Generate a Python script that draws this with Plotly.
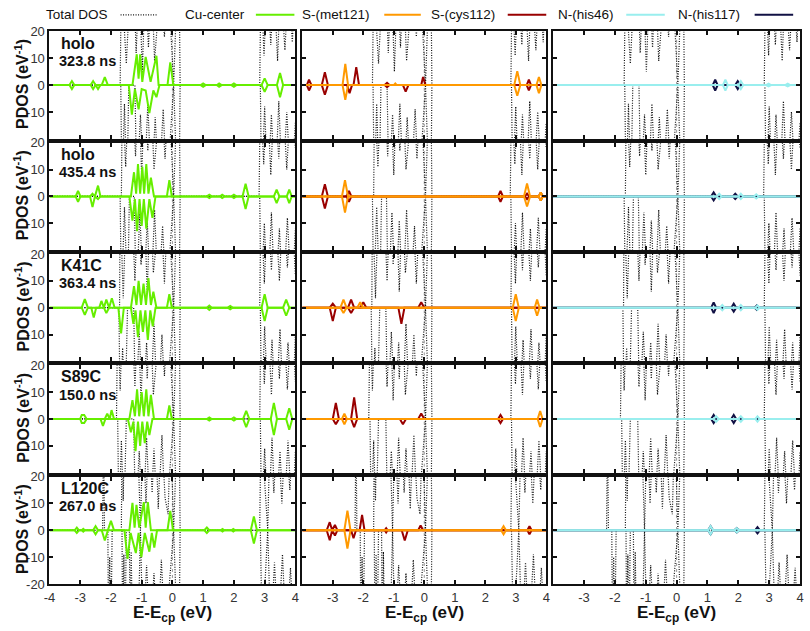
import plotly.graph_objects as go

W, H = 810, 631

X_TICKS = [-4, -3, -2, -1, 0, 1, 2, 3, 4]
Y_TICKS = [-20, -10, 0, 10, 20]
ROW_NAMES = ["holo", "holo", "K41C", "S89C", "L120C"]
ROW_TIMES = ["323.8 ns", "435.4 ns", "363.4 ns", "150.0 ns", "267.0 ns"]
SERIES = ["Total DOS", "Cu-center", "S-(met121)", "S-(cys112)", "N-(his46)", "N-(his117)"]
COLORS = ["#000000", "#66ee00", "#ff9900", "#990000", "#99eeee", "#111144"]

# ---- Total DOS (spin up / spin down), one list of [E, DOS] vertices per row ----
tot_up = [
    [[-4, 0], [-1.7, 0], [-1.66, 40], [-1.5, 8], [-1.36, 40], [-1.26, 40], [-1.18, 12], [-1.08, 40], [-0.98, 5],
     [-0.88, 40], [-0.78, 14], [-0.68, 40], [-0.58, 9], [-0.48, 40], [-0.38, 40], [-0.26, 18], [-0.14, 40],
     [0.04, 0], [0.16, 40], [0.22, 40], [0.25, 0], [2.84, 0], [2.88, 40], [2.98, 11], [3.08, 40], [3.2, 15],
     [3.3, 40], [3.42, 9], [3.52, 40], [3.66, 13], [3.78, 40], [3.9, 16], [4, 40]],
    [[-4, 0], [-1.66, 0], [-1.63, 40], [-1.52, 11], [-1.42, 40], [-1.3, 40], [-1.2, 15], [-1.1, 40], [-1.0, 8],
     [-0.9, 40], [-0.8, 17], [-0.7, 40], [-0.6, 10], [-0.5, 40], [-0.36, 40], [-0.24, 14], [-0.12, 40],
     [0.04, 0], [0.16, 40], [0.22, 40], [0.25, 0], [2.82, 0], [2.86, 40], [2.97, 12], [3.08, 40], [3.2, 8],
     [3.32, 40], [3.46, 14], [3.58, 40], [3.72, 10], [3.86, 40], [4, 18]],
    [[-4, 0], [-1.72, 0], [-1.7, 40], [-1.6, 3.5], [-1.5, 40], [-1.32, 40], [-1.22, 10], [-1.12, 40],
     [-1.02, 16], [-0.92, 40], [-0.82, 6], [-0.72, 40], [-0.62, 13], [-0.52, 40], [-0.38, 40], [-0.26, 9],
     [-0.14, 40], [0.04, 0], [0.16, 40], [0.22, 40], [0.25, 0], [2.84, 0], [2.88, 40], [2.99, 9], [3.1, 40],
     [3.22, 14], [3.34, 40], [3.48, 10], [3.6, 40], [3.74, 15], [3.88, 40], [4, 12]],
    [[-4, 0], [-1.82, 0], [-1.78, 40], [-1.7, 10.6], [-1.62, 40], [-1.32, 40], [-1.22, 12], [-1.12, 40],
     [-1.02, 7], [-0.92, 40], [-0.82, 15], [-0.72, 40], [-0.62, 9], [-0.52, 40], [-0.38, 40], [-0.26, 16],
     [-0.14, 40], [0.04, 0], [0.16, 40], [0.22, 40], [0.25, 0], [2.84, 0], [2.88, 40], [2.99, 13], [3.1, 40],
     [3.22, 9], [3.34, 40], [3.48, 15], [3.6, 40], [3.74, 11], [3.88, 40], [4, 14]],
    [[-4, 0], [-2.27, 0], [-2.24, 40], [-2.21, 0], [-1.66, 0], [-1.64, 40], [-1.6, 11], [-1.56, 40],
     [-1.14, 40], [-1.04, 0], [-0.96, 40], [-0.86, 10], [-0.76, 40], [-0.66, 14], [-0.56, 40], [-0.46, 8],
     [-0.36, 40], [-0.24, 12], [-0.14, 6], [-0.06, 40], [0.04, 0], [0.16, 40], [0.22, 40], [0.25, 0],
     [2.84, 0], [2.88, 40], [3.1, 0], [3.18, 40], [3.3, 14], [3.42, 40], [3.56, 10], [3.68, 40], [3.82, 15],
     [3.94, 40], [4, 30]],
]
tot_dn = [
    [[-4, 0], [-1.68, 0], [-1.64, -40], [-1.56, -7], [-1.48, -40], [-1.42, 0], [-1.22, 0], [-1.16, -40],
     [-1.04, -11], [-0.92, -40], [-0.8, -7], [-0.68, -40], [-0.56, -12], [-0.44, -40], [-0.3, -9], [-0.18, -40],
     [0.04, 0], [0.16, -40], [0.22, -40], [0.25, 0], [2.86, 0], [2.9, -40], [3.0, -8], [3.1, -40], [3.22, -11],
     [3.34, -40], [3.46, -6], [3.58, -40], [3.72, -10], [3.86, -40], [4, -14]],
    [[-4, 0], [-1.7, 0], [-1.66, -40], [-1.56, -4], [-1.46, -40], [-1.4, 0], [-1.24, 0], [-1.18, -40],
     [-1.06, -6], [-0.94, -40], [-0.82, -9], [-0.7, -40], [-0.58, -5], [-0.46, -40], [-0.32, -11], [-0.2, -40],
     [0.04, 0], [0.16, -40], [0.22, -40], [0.25, 0], [2.84, 0], [2.88, -40], [2.99, -10], [3.1, -40],
     [3.22, -6], [3.34, -40], [3.48, -12], [3.6, -40], [3.74, -8], [3.88, -40], [4, -12]],
    [[-4, 0], [-1.74, 0], [-1.7, -40], [-1.62, -15], [-1.54, -40], [-1.46, 0], [-1.26, 0], [-1.2, -40],
     [-1.08, -9], [-0.96, -40], [-0.84, -13], [-0.72, -40], [-0.6, -6], [-0.48, -40], [-0.34, -10],
     [-0.22, -40], [0.04, 0], [0.16, -40], [0.22, -40], [0.25, 0], [2.86, 0], [2.9, -40], [3.0, -7],
     [3.12, -40], [3.24, -12], [3.36, -40], [3.5, -8], [3.62, -40], [3.76, -13], [3.9, -40], [4, -10]],
    [[-4, 0], [-1.78, 0], [-1.74, -40], [-1.66, -8], [-1.58, -40], [-1.5, 0], [-1.26, 0], [-1.2, -40],
     [-1.08, -12], [-0.96, -40], [-0.84, -7], [-0.72, -40], [-0.6, -11], [-0.48, -40], [-0.34, -6],
     [-0.22, -40], [0.04, 0], [0.16, -40], [0.22, -40], [0.25, 0], [2.86, 0], [2.9, -40], [3.0, -11],
     [3.12, -40], [3.24, -7], [3.36, -40], [3.5, -12], [3.62, -40], [3.76, -8], [3.9, -40], [4, -12]],
    [[-4, 0], [-2.1, 0], [-2.08, -40], [-2.04, -10], [-2.0, -40], [-1.96, 0], [-1.64, 0], [-1.62, -40],
     [-1.58, -9], [-1.54, -40], [-1.5, 0], [-1.4, 0], [-1.38, -40], [-1.34, -8], [-1.3, -40], [-1.12, -40],
     [-1.04, 0], [-0.96, -40], [-0.84, -13], [-0.72, -40], [-0.6, -16], [-0.48, -40], [-0.36, -11],
     [-0.24, -40], [0.04, 0], [0.16, -40], [0.22, -40], [0.25, 0], [2.86, 0], [2.92, -40], [3.1, 0],
     [3.2, -40], [3.32, -12], [3.44, -40], [3.58, -9], [3.7, -40], [3.84, -14], [3.96, -40], [4, -30]],
]

# ---- Cu-center PDOS ----
cu_up = [
    [[-4, 0], [-3.35, 0], [-3.27, 1.5], [-3.19, 0], [-2.66, 0], [-2.58, 1.5], [-2.5, 0], [-2.3, 0], [-2.2, 3],
     [-2.1, 0], [-1.3, 0], [-1.16, 11.5], [-1.1, 2.4], [-1.05, 11.5], [-0.98, 1.2], [-0.87, 10.5], [-0.71, 1.2],
     [-0.52, 10.9], [-0.45, 0], [-0.16, 0], [-0.07, 8.5], [0.03, 0], [0.92, 0], [1.0, 0.6], [1.08, 0],
     [1.45, 0], [1.52, 0.6], [1.6, 0], [1.92, 0], [2.0, 0.6], [2.08, 0], [2.9, 0], [3.0, 2.5], [3.1, 0],
     [3.4, 0], [3.5, 4.5], [3.6, 0], [4, 0]],
    [[-4, 0], [-3.15, 0], [-3.07, 2], [-2.99, 0], [-2.68, 0], [-2.6, 1], [-2.52, 0], [-2.42, 4], [-2.34, 0],
     [-1.35, 0], [-1.25, 9], [-1.18, 1], [-1.12, 12], [-1.05, 1], [-0.98, 11], [-0.92, 1], [-0.85, 12],
     [-0.78, 1], [-0.7, 7], [-0.6, 0], [-0.18, 0], [-0.1, 6], [-0.02, 0], [1.12, 0], [1.2, 0.6], [1.28, 0],
     [1.55, 0], [1.62, 0.6], [1.7, 0], [1.92, 0], [2.0, 0.6], [2.08, 0], [2.28, 0], [2.38, 4.7], [2.48, 0],
     [3.3, 0], [3.39, 2.5], [3.48, 0], [3.72, 0], [3.8, 2.5], [3.88, 0], [4, 0]],
    [[-4, 0], [-2.95, 0], [-2.85, 3.2], [-2.75, 0], [-2.38, 0], [-2.31, 2.5], [-2.23, 0], [-2.15, 3],
     [-2.06, 0], [-1.97, 3.5], [-1.88, 0], [-1.35, 0], [-1.25, 8], [-1.17, 1], [-1.1, 10], [-1.02, 1],
     [-0.94, 9], [-0.86, 1], [-0.78, 11], [-0.7, 1], [-0.62, 6], [-0.52, 0], [-0.18, 0], [-0.1, 5],
     [-0.02, 0], [1.12, 0], [1.2, 0.8], [1.28, 0], [1.8, 0], [1.88, 0.6], [1.96, 0], [2.9, 0], [3.0, 5],
     [3.1, 0], [3.6, 0], [3.7, 3], [3.8, 0], [4, 0]],
    [[-4, 0], [-3.0, 0], [-2.95, 1.5], [-2.87, 1.5], [-2.79, 0], [-2.2, 0], [-2.12, 2], [-2.04, 0],
     [-1.98, 3.3], [-1.9, 0], [-1.4, 0], [-1.3, 7], [-1.22, 1], [-1.15, 11], [-1.08, 1], [-1.0, 10],
     [-0.93, 1], [-0.85, 11], [-0.78, 1], [-0.7, 9], [-0.6, 0], [-0.18, 0], [-0.1, 5], [-0.02, 0], [1.12, 0],
     [1.2, 0.6], [1.28, 0], [1.92, 0], [2.0, 0.6], [2.08, 0], [2.3, 0], [2.4, 3], [2.5, 0], [3.2, 0],
     [3.3, 6], [3.4, 0], [3.7, 0], [3.8, 4], [3.9, 0], [4, 0]],
    [[-4, 0], [-3.18, 0], [-3.11, 1], [-3.04, 0], [-2.95, 0], [-2.9, 0.5], [-2.85, 0], [-2.58, 0], [-2.5, 1.5],
     [-2.42, 0], [-2.1, 0], [-2.0, 3.5], [-1.9, 0], [-1.4, 0], [-1.3, 10.2], [-1.23, 1], [-1.17, 9.5],
     [-1.08, 1], [-0.93, 10.5], [-0.87, 1], [-0.8, 10.5], [-0.7, 0], [-0.16, 0], [-0.07, 7.2], [0.02, 0],
     [1.04, 0], [1.12, 1], [1.2, 0], [1.57, 0], [1.63, 0.5], [1.69, 0], [1.92, 0], [1.98, 0.5], [2.04, 0],
     [2.55, 0], [2.65, 5.1], [2.75, 0], [4, 0]],
]
cu_dn = [
    [[-4, 0], [-3.35, 0], [-3.27, -1.5], [-3.19, 0], [-2.66, 0], [-2.58, -1.5], [-2.5, 0], [-2.42, -1.5],
     [-2.34, 0], [-1.42, 0], [-1.32, -11], [-1.22, -1.5], [-1.1, -9], [-1.0, -1.5], [-0.87, -2], [-0.75, -10.4],
     [-0.62, -2], [-0.52, -4.5], [-0.42, 0], [0.92, 0], [1.0, -0.6], [1.08, 0], [1.45, 0], [1.52, -0.6],
     [1.6, 0], [1.92, 0], [2.0, -0.6], [2.08, 0], [2.9, 0], [3.0, -2.5], [3.1, 0], [3.4, 0], [3.5, -4.5],
     [3.6, 0], [4, 0]],
    [[-4, 0], [-3.15, 0], [-3.07, -2], [-2.99, 0], [-2.68, 0], [-2.6, -4], [-2.52, 0], [-2.42, -1],
     [-2.34, 0], [-1.4, 0], [-1.3, -9], [-1.22, -1], [-1.15, -13], [-1.07, -1], [-1.0, -11], [-0.93, -1],
     [-0.85, -12], [-0.75, -1], [-0.65, -8], [-0.55, 0], [1.12, 0], [1.2, -0.6], [1.28, 0], [1.55, 0],
     [1.62, -0.6], [1.7, 0], [1.92, 0], [2.0, -0.6], [2.08, 0], [2.28, 0], [2.38, -4.7], [2.48, 0],
     [3.3, 0], [3.39, -2.5], [3.48, 0], [3.72, 0], [3.8, -2.5], [3.88, 0], [4, 0]],
    [[-4, 0], [-2.95, 0], [-2.85, -2.7], [-2.75, 0], [-2.64, 0], [-2.56, -3.7], [-2.48, 0], [-2.23, 0],
     [-2.15, -2], [-2.06, 0], [-1.76, 0], [-1.67, -9.6], [-1.58, 0], [-1.35, 0], [-1.27, -6], [-1.2, -1],
     [-1.12, -11], [-1.04, -1], [-0.96, -9], [-0.88, -1], [-0.8, -12], [-0.72, -1], [-0.64, -7], [-0.55, 0],
     [1.12, 0], [1.2, -0.8], [1.28, 0], [1.8, 0], [1.88, -0.6], [1.96, 0], [2.9, 0], [3.0, -5], [3.1, 0],
     [3.6, 0], [3.7, -3], [3.8, 0], [4, 0]],
    [[-4, 0], [-3.0, 0], [-2.95, -1.5], [-2.87, -1.5], [-2.79, 0], [-2.34, 0], [-2.26, -2.6], [-2.18, 0],
     [-1.45, 0], [-1.35, -5], [-1.27, -1], [-1.2, -12], [-1.12, -1], [-1.05, -10], [-0.98, -1], [-0.9, -9],
     [-0.82, -1], [-0.75, -6], [-0.65, 0], [1.12, 0], [1.2, -0.6], [1.28, 0], [1.92, 0], [2.0, -0.6],
     [2.08, 0], [2.3, 0], [2.4, -3], [2.5, 0], [3.2, 0], [3.3, -6], [3.4, 0], [3.7, 0], [3.8, -4], [3.9, 0],
     [4, 0]],
    [[-4, 0], [-3.18, 0], [-3.11, -1], [-3.04, 0], [-2.95, 0], [-2.9, -0.5], [-2.85, 0], [-2.58, 0],
     [-2.5, -1.5], [-2.42, 0], [-2.3, 0], [-2.2, -3.8], [-2.1, 0], [-1.56, 0], [-1.46, -10.7], [-1.36, -1],
     [-1.19, -8.5], [-1.1, -1], [-1.01, -10], [-0.9, -1], [-0.75, -8], [-0.67, -1], [-0.59, -6.5], [-0.5, 0],
     [1.04, 0], [1.12, -1], [1.2, 0], [1.57, 0], [1.63, -0.5], [1.69, 0], [1.92, 0], [1.98, -0.5], [2.04, 0],
     [2.55, 0], [2.65, -4.9], [2.75, 0], [4, 0]],
]

# ---- S-(met121) PDOS (orange) ----
met_up = [
    [[-4, 0], [-2.68, 0], [-2.59, 7.9], [-2.5, 0], [-1.0, 0], [-0.95, 0.6], [-0.9, 0], [2.95, 0], [3.05, 5.2],
     [3.15, 0], [3.68, 0], [3.76, 3], [3.84, 0], [4, 0]],
    [[-4, 0], [-2.7, 0], [-2.6, 6], [-2.5, 0], [3.27, 0], [3.37, 4.8], [3.47, 0], [3.75, 0], [3.82, 1.5],
     [3.89, 0], [4, 0]],
    [[-4, 0], [-2.75, 0], [-2.65, 3], [-2.55, 0], [-2.2, 0], [-2.1, 2], [-2.0, 0], [2.9, 0], [3.0, 5],
     [3.1, 0], [3.62, 0], [3.7, 3], [3.78, 0], [4, 0]],
    [[-4, 0], [-2.7, 0], [-2.62, 2], [-2.54, 0], [3.72, 0], [3.8, 3], [3.88, 0], [4, 0]],
    [[-4, 0], [-2.62, 0], [-2.52, 7.3], [-2.42, 0], [2.52, 0], [2.6, 1.5], [2.68, 0], [4, 0]],
]
met_dn = [
    [[-4, 0], [-2.68, 0], [-2.59, -5.5], [-2.5, 0], [2.95, 0], [3.05, -4], [3.15, 0], [3.68, 0], [3.76, -3],
     [3.84, 0], [4, 0]],
    [[-4, 0], [-2.7, 0], [-2.6, -6], [-2.5, 0], [3.27, 0], [3.37, -3.8], [3.47, 0], [3.75, 0], [3.82, -1.5],
     [3.89, 0], [4, 0]],
    [[-4, 0], [-2.75, 0], [-2.65, -2], [-2.55, 0], [2.9, 0], [3.0, -5], [3.1, 0], [3.62, 0], [3.7, -3],
     [3.78, 0], [4, 0]],
    [[-4, 0], [-2.7, 0], [-2.62, -2], [-2.54, 0], [3.72, 0], [3.8, -3], [3.88, 0], [4, 0]],
    [[-4, 0], [-2.62, 0], [-2.52, -6.8], [-2.42, 0], [2.52, 0], [2.6, -1.5], [2.68, 0], [4, 0]],
]

# ---- S-(cys112) PDOS (dark red) ----
cys_up = [
    [[-4, 0], [-3.85, 0], [-3.78, 2], [-3.7, 0], [-3.36, 0], [-3.26, 4.8], [-3.16, 0], [-2.32, 0], [-2.23, 6.7],
     [-2.14, 0], [-1.3, 0], [-1.22, 0.8], [-1.14, 0], [-0.1, 0], [-0.04, 3], [0.04, 0], [3.36, 0], [3.43, 2],
     [3.5, 0], [4, 0]],
    [[-4, 0], [-3.36, 0], [-3.26, 4.5], [-3.16, 0], [-2.55, 0], [-2.47, 2], [-2.39, 0], [2.42, 0], [2.5, 2],
     [2.58, 0], [3.3, 0], [3.37, 1], [3.44, 0], [3.75, 0], [3.82, 1.5], [3.89, 0], [4, 0]],
    [[-4, 0], [-3.1, 0], [-3.0, 1.5], [-2.9, 0], [-2.5, 0], [-2.4, 3], [-2.3, 0], [-2.1, 0], [-2.0, 2],
     [-1.9, 0], [-0.2, 0], [-0.1, 2], [0.0, 0], [4, 0]],
    [[-4, 0], [-3.0, 0], [-2.9, 6], [-2.8, 0], [-2.4, 0], [-2.3, 8], [-2.2, 0], [-0.2, 0], [-0.1, 2],
     [0.0, 0], [2.42, 0], [2.5, 1.5], [2.58, 0], [4, 0]],
    [[-4, 0], [-3.2, 0], [-3.1, 3], [-3.02, 0], [-2.93, 2], [-2.85, 0], [-2.12, 0], [-2.04, 5.7], [-1.96, 0],
     [-1.3, 0], [-1.25, 0.8], [-1.2, 0], [-0.2, 0], [-0.12, 1.8], [-0.04, 0], [3.38, 0], [3.45, 1.5],
     [3.52, 0], [4, 0]],
]
cys_dn = [
    [[-4, 0], [-3.85, 0], [-3.78, -2], [-3.7, 0], [-3.36, 0], [-3.26, -3.6], [-3.16, 0], [-2.53, 0],
     [-2.45, -3], [-2.37, 0], [-1.3, 0], [-1.22, -0.8], [-1.14, 0], [-0.7, 0], [-0.61, -2.4], [-0.52, 0],
     [3.36, 0], [3.43, -2], [3.5, 0], [4, 0]],
    [[-4, 0], [-3.36, 0], [-3.26, -4.5], [-3.16, 0], [-2.55, 0], [-2.47, -2], [-2.39, 0], [2.42, 0],
     [2.5, -2], [2.58, 0], [3.3, 0], [3.37, -1], [3.44, 0], [3.75, 0], [3.82, -1.5], [3.89, 0], [4, 0]],
    [[-4, 0], [-3.1, 0], [-3.0, -5], [-2.9, 0], [-2.5, 0], [-2.4, -2], [-2.3, 0], [-0.85, 0], [-0.75, -6],
     [-0.65, 0], [4, 0]],
    [[-4, 0], [-3.0, 0], [-2.9, -2], [-2.8, 0], [-2.4, 0], [-2.3, -3], [-2.2, 0], [-0.8, 0], [-0.7, -2],
     [-0.6, 0], [2.42, 0], [2.5, -1.5], [2.58, 0], [4, 0]],
    [[-4, 0], [-3.2, 0], [-3.1, -3.7], [-3.02, 0], [-2.93, -2], [-2.85, 0], [-2.4, 0], [-2.32, -3],
     [-2.24, 0], [-1.3, 0], [-1.25, -0.8], [-1.2, 0], [-0.74, 0], [-0.64, -3.8], [-0.54, 0], [3.38, 0],
     [3.45, -1.5], [3.52, 0], [4, 0]],
]

# ---- N-(his46) PDOS (light cyan) ----
h46_up = [
    [[-4, 0], [1.5, 0], [1.58, 2], [1.66, 0], [2.0, 0], [2.08, 1.5], [2.16, 0], [2.9, 0], [2.98, 0.5],
     [3.06, 0], [3.52, 0], [3.6, 0.5], [3.68, 0], [4, 0]],
    [[-4, 0], [1.3, 0], [1.38, 1], [1.46, 0], [2.0, 0], [2.08, 1], [2.16, 0], [2.5, 0], [2.58, 0.8],
     [2.66, 0], [4, 0]],
    [[-4, 0], [1.4, 0], [1.48, 1], [1.56, 0], [2.0, 0], [2.08, 1], [2.16, 0], [2.55, 0], [2.62, 0.8],
     [2.69, 0], [4, 0]],
    [[-4, 0], [1.2, 0], [1.28, 1], [1.36, 0], [2.0, 0], [2.08, 1], [2.16, 0], [2.55, 0], [2.62, 1],
     [2.69, 0], [4, 0]],
    [[-4, 0], [1.02, 0], [1.1, 1.5], [1.18, 0], [1.87, 0], [1.95, 0.8], [2.03, 0], [4, 0]],
]
h46_dn = [[[x, -y] for x, y in row] for row in h46_up]
# ---- N-(his117) PDOS (navy) ----
h117_up = [
    [[-4, 0], [1.17, 0], [1.25, 2], [1.33, 0], [1.9, 0], [1.98, 1.5], [2.06, 0], [4, 0]],
    [[-4, 0], [1.12, 0], [1.2, 1.5], [1.28, 0], [1.82, 0], [1.9, 1], [1.98, 0], [4, 0]],
    [[-4, 0], [1.12, 0], [1.2, 2], [1.28, 0], [1.77, 0], [1.85, 1.5], [1.93, 0], [2.53, 0], [2.6, 0.8],
     [2.67, 0], [4, 0]],
    [[-4, 0], [1.12, 0], [1.2, 1.5], [1.28, 0], [1.77, 0], [1.85, 1.5], [1.93, 0], [4, 0]],
    [[-4, 0], [1.02, 0], [1.1, 1.5], [1.18, 0], [1.87, 0], [1.95, 0.8], [2.03, 0], [2.54, 0], [2.62, 1.2],
     [2.7, 0], [4, 0]],
]
h117_dn = [[[x, -y] for x, y in row] for row in h117_up]

# panel layout (pixels)
COL_PX = [(44, 293), (300, 547), (554, 804)]
ROW_TOP0, ROW_PITCH, ROW_H = 25, 114, 110

def px(x):
    return x / W

def py(y):
    return 1 - y / H

fig = go.Figure()

FONT = "Liberation Sans, Arial, Helvetica, sans-serif"
layout = dict(
    width=W, height=H, autosize=False,
    margin=dict(l=0, r=0, t=0, b=0, pad=0),
    paper_bgcolor="white", plot_bgcolor="white",
    showlegend=False,
    font=dict(family=FONT, size=13, color="#222"),
)

col_series = [
    [(cu_up, cu_dn, COLORS[1])],
    [(cys_up, cys_dn, COLORS[3]), (met_up, met_dn, COLORS[2])],
    [(h117_up, h117_dn, COLORS[5]), (h46_up, h46_dn, COLORS[4])],
]

shapes = []
annotations = []
DOT = "1px,1.5px"

for r in range(5):
    top = ROW_TOP0 + r * ROW_PITCH
    bot = top + ROW_H
    for c in range(3):
        k = r * 3 + c + 1
        xs = "x" if k == 1 else f"x{k}"
        ys = "y" if k == 1 else f"y{k}"
        xa = "xaxis" if k == 1 else f"xaxis{k}"
        ya = "yaxis" if k == 1 else f"yaxis{k}"
        x0, x1 = COL_PX[c]
        xt = X_TICKS if c == 0 else X_TICKS[1:]
        layout[xa] = dict(
            domain=[px(x0), px(x1)], anchor=ys, range=[-4, 4],
            tickvals=xt, ticktext=[str(t) for t in xt],
            showticklabels=(r == 4), ticks="inside", ticklen=4, tickwidth=2, tickcolor="#111",
            showline=True, linewidth=2, linecolor="#111", mirror="allticks",
            showgrid=False, zeroline=False, fixedrange=True,
            tickfont=dict(size=13, color="#333", family=FONT),
        )
        yt = Y_TICKS if r == 4 else Y_TICKS[1:]
        layout[ya] = dict(
            domain=[py(bot), py(top)], anchor=xs, range=[-20, 20],
            tickvals=yt, ticktext=[str(t) for t in yt],
            showticklabels=(c == 0), ticks="inside", ticklen=4, tickwidth=2, tickcolor="#111",
            showline=True, linewidth=2, linecolor="#111", mirror="allticks",
            showgrid=False, zeroline=False, fixedrange=True,
            tickfont=dict(size=13, color="#333", family=FONT),
        )
        # Fermi level marker
        shapes.append(dict(type="line", xref=xs, yref=ys, x0=0, x1=0, y0=-20, y1=20,
                           line=dict(color="#999", width=1, dash="dot"), layer="below"))
        # total DOS
        for curve in (tot_up[r], tot_dn[r]):
            fig.add_trace(go.Scatter(
                x=[p[0] for p in curve], y=[p[1] for p in curve], mode="lines",
                line=dict(color="#111", width=1.2, dash=DOT),
                xaxis=xs, yaxis=ys, hoverinfo="skip"))
        for up, dn, col in col_series[c]:
            for curve in (up[r], dn[r]):
                fig.add_trace(go.Scatter(
                    x=[p[0] for p in curve], y=[p[1] for p in curve], mode="lines",
                    line=dict(color=col, width=2),
                    xaxis=xs, yaxis=ys, hoverinfo="skip"))
    # row labels
    annotations.append(dict(text=f"<b>{ROW_NAMES[r]}</b>", xref="paper", yref="paper",
                            x=px(54), y=py(top + 12), xanchor="left", yanchor="middle",
                            showarrow=False, font=dict(size=16, color="#111", family=FONT)))
    annotations.append(dict(text=f"<b>{ROW_TIMES[r]}</b>", xref="paper", yref="paper",
                            x=px(52), y=py(top + 30), xanchor="left", yanchor="middle",
                            showarrow=False, font=dict(size=14.5, color="#111", family=FONT)))
    annotations.append(dict(text="<b>PDOS (eV<sup>-1</sup>)</b>", xref="paper", yref="paper",
                            x=px(16), y=py(top + 54), xanchor="center", yanchor="middle",
                            textangle=-90, showarrow=False,
                            font=dict(size=16, color="#111", family=FONT)))

for c in range(3):
    x0, x1 = COL_PX[c]
    annotations.append(dict(text="<b>E-E<sub>cp</sub> (eV)</b>", xref="paper", yref="paper",
                            x=px((x0 + x1) / 2), y=py(622), xanchor="center", yanchor="middle",
                            showarrow=False, font=dict(size=17, color="#111", family=FONT)))

# legend (text followed by line sample)
LEG_TEXT_X = [38, 179, 298, 428, 557, 678]
LEG_LINE_X = [(116, 154), (253, 292), (383, 420), (508, 547), (628, 667), (758, 797)]
for i, name in enumerate(SERIES):
    annotations.append(dict(text=name, xref="paper", yref="paper", x=px(LEG_TEXT_X[i]), y=py(8),
                            xanchor="left", yanchor="middle", showarrow=False,
                            font=dict(size=13.5, color="#111", family=FONT)))
    a, b = LEG_LINE_X[i]
    if i == 0:
        ln = dict(color="#111", width=1.2, dash=DOT)
    else:
        ln = dict(color=COLORS[i], width=2)
    shapes.append(dict(type="line", xref="paper", yref="paper", x0=px(a), x1=px(b),
                       y0=py(8), y1=py(8), line=ln))

layout["shapes"] = shapes
layout["annotations"] = annotations
fig.update_layout(**layout)
fig.write_html("out.html", config={"displayModeBar": False, "staticPlot": True},
               post_script="document.body.style.margin='0';document.body.style.overflow='hidden';")
